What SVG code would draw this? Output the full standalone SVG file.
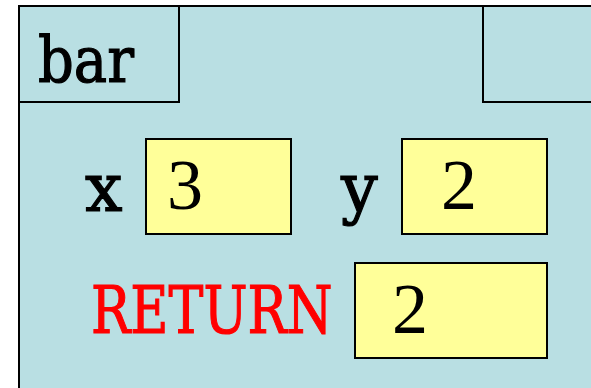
<svg xmlns="http://www.w3.org/2000/svg" width="591" height="388" viewBox="0 0 591 388">
<style>
.frame{fill:#b9dfe3;stroke:#000;stroke-width:2}
.box{fill:#ffff99;stroke:#000;stroke-width:2}
.mono{font-family:"DejaVu Serif","Liberation Serif",serif;stroke-width:1.2}
.blk{fill:#000;stroke:#000}
.red{fill:#ff0000;stroke:#ff0000}
.num{font-family:"Liberation Serif","Times New Roman",serif;fill:#000}
</style>
<rect width="591" height="388" fill="#fff"/>
<g id="frame">
<rect class="frame" x="19" y="6" width="600" height="420"/>
</g>
<g id="bar">
<rect class="frame" x="19" y="6" width="160" height="96"/>
<text class="mono blk" transform="translate(38,82) scale(0.75,1)" font-size="64" textLength="128" lengthAdjust="spacingAndGlyphs">bar</text>
</g>
<g id="corner">
<rect class="frame" x="483" y="6" width="140" height="96"/>
</g>
<g id="x">
<text class="mono blk" transform="translate(85,211) scale(0.75,1)" font-size="68" textLength="50" lengthAdjust="spacingAndGlyphs">x</text>
<rect class="box" x="146" y="139" width="145" height="95"/>
<text class="num" x="167" y="209" font-size="72">3</text>
</g>
<g id="y">
<text class="mono blk" transform="translate(341,211) scale(0.75,1)" font-size="68" textLength="49" lengthAdjust="spacingAndGlyphs">y</text>
<rect class="box" x="402" y="139" width="145" height="95"/>
<text class="num" x="441" y="209" font-size="72">2</text>
</g>
<g id="return">
<text class="mono red" transform="translate(91,333) scale(0.8,1)" font-size="66" textLength="302" lengthAdjust="spacingAndGlyphs">RETURN</text>
<rect class="box" x="355" y="263" width="192" height="95"/>
<text class="num" x="392" y="333" font-size="72">2</text>
</g>
<g id="connectors"/>
</svg>
